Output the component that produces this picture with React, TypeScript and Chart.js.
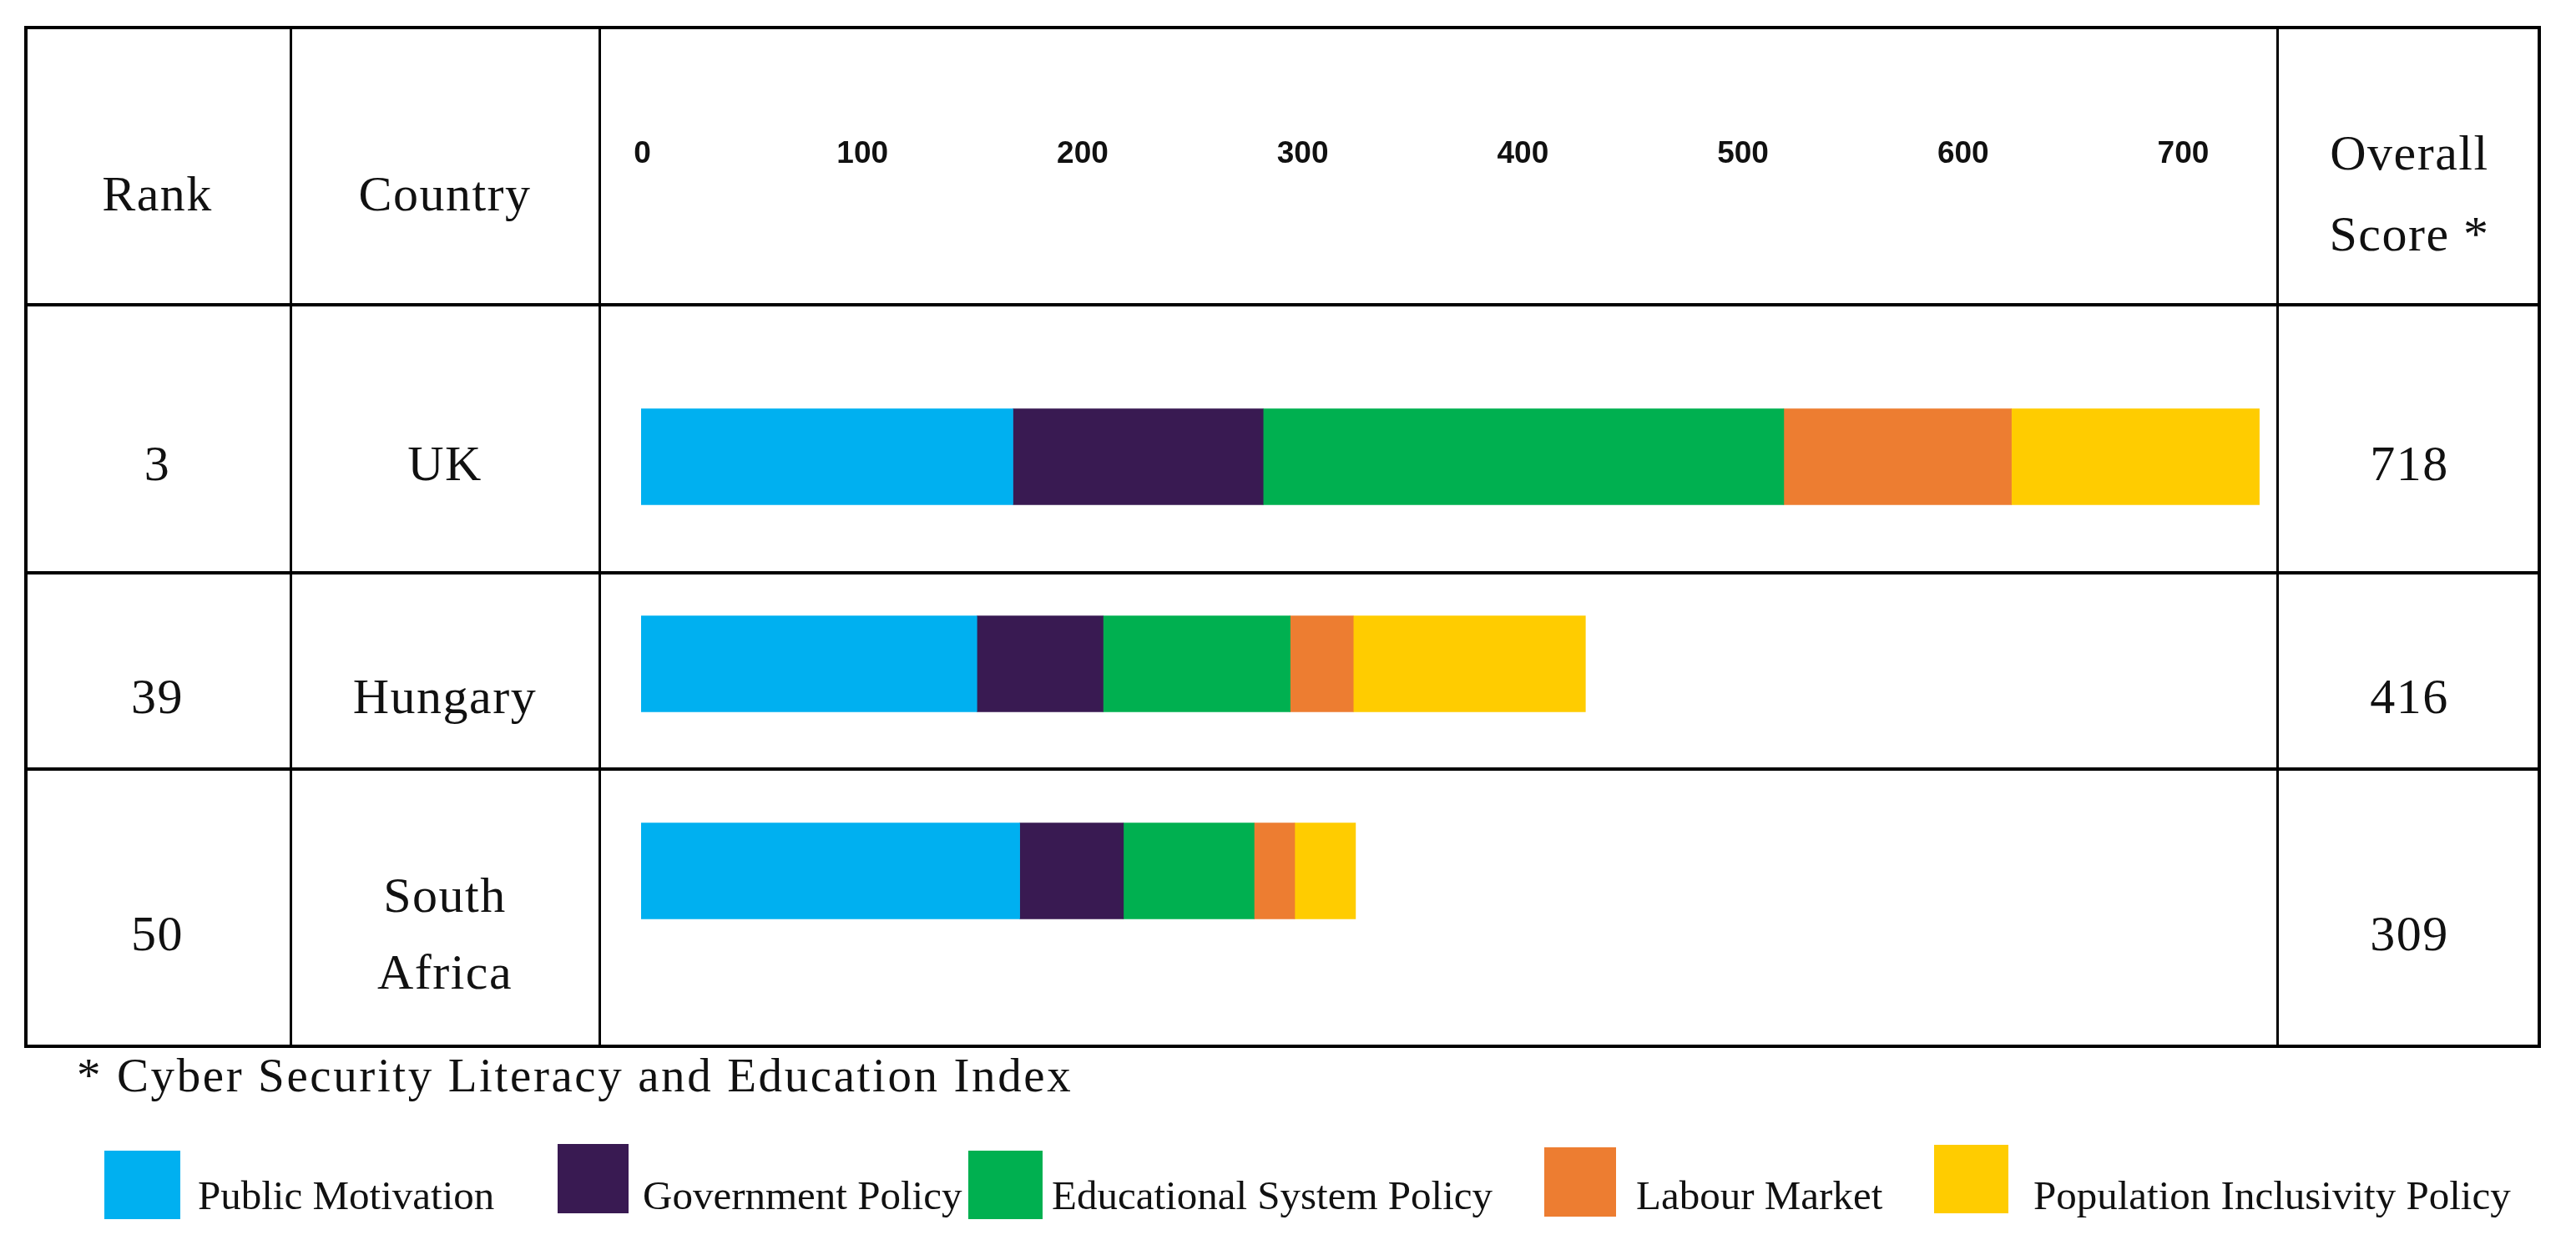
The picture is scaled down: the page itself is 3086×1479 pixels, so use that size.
import React, { useEffect, useRef } from "react";
import { Chart, registerables } from "chart.js";

Chart.register(...registerables);

// ---------- data ----------
const countries = ["UK", "Hungary", "South Africa"];
const ranks = ["3", "39", "50"];
const overallScores = ["718", "416", "309"];
const seriesNames = [
  "Public Motivation",
  "Government Policy",
  "Educational System Policy",
  "Labour Market",
  "Population Inclusivity Policy",
];
const seriesColors = ["#00B0F0", "#391A52", "#00B050", "#ED7D31", "#FFCC00"];
const publicMotivation = [165, 149, 168];
const governmentPolicy = [111, 56, 46];
const educationalSystemPolicy = [231, 83, 58];
const labourMarket = [101, 28, 18];
const populationInclusivityPolicy = [110, 103, 27];
const tickValues = [0, 100, 200, 300, 400, 500, 600, 700];
const footnote = "* Cyber Security Literacy and Education Index";

const seriesValues = [
  publicMotivation,
  governmentPolicy,
  educationalSystemPolicy,
  labourMarket,
  populationInclusivityPolicy,
];

// ---------- layout (page pixels) ----------
const SERIF = "'Liberation Serif', 'Times New Roman', serif";
const hLines = [33, 365, 686, 921, 1253]; // centers
const tableLeft = 29;
const tableRight = 3044;
const colLines = [348.5, 718.5, 2728.5];
const colBounds = [tableLeft, 348, 718, 2729, tableRight];
const rowTextY = [555, 834, 1118];
const legendLayout = [
  { sx: 125, sy: 1378, sw: 91, sh: 82, tx: 237 },
  { sx: 668, sy: 1370, sw: 85, sh: 83, tx: 770 },
  { sx: 1160, sy: 1378, sw: 89, sh: 82, tx: 1260 },
  { sx: 1850, sy: 1374, sw: 86, sh: 83, tx: 1960 },
  { sx: 2317, sy: 1371, sw: 89, sh: 82, tx: 2436 },
];

const chartBox = { left: 720, top: 35, width: 2007, height: 1216 };
const TICK_PAD = 216;
const TICK_AXIS_HEIGHT = 266;

function CellText(props: {
  col: number;
  cy: number;
  text: string;
  size?: number;
}) {
  const size = props.size ?? 60;
  const l = colBounds[props.col];
  const r = colBounds[props.col + 1];
  return (
    <div
      style={{
        position: "absolute",
        left: l,
        width: r - l,
        top: props.cy - size / 2,
        height: size,
        lineHeight: size + "px",
        fontSize: size,
        fontFamily: SERIF,
        letterSpacing: "1.5px",
        textAlign: "center",
        color: "#111",
        whiteSpace: "nowrap",
      }}
    >
      {props.text}
    </div>
  );
}

export default function App() {
  const canvasRef = useRef<HTMLCanvasElement | null>(null);

  useEffect(() => {
    const canvas = canvasRef.current;
    if (!canvas) return;
    const chart = new Chart(canvas, {
      type: "bar",
      data: {
        labels: countries,
        datasets: seriesValues.map((d, i) => ({
          label: seriesNames[i],
          data: d,
          backgroundColor: seriesColors[i],
          borderWidth: 0,
          barThickness: 115,
        })),
      },
      options: {
        indexAxis: "y",
        animation: false,
        responsive: false,
        devicePixelRatio: 1,
        layout: { padding: { left: 48, right: 15, top: 122, bottom: 84 } },
        plugins: {
          legend: { display: false },
          tooltip: { enabled: false },
        },
        scales: {
          x: { stacked: true, min: 0, max: 720, display: false },
          xt: {
            type: "linear",
            position: "top",
            min: -0.57,
            max: 736.6,
            grid: { display: false, drawTicks: false, tickLength: 0 },
            border: { display: false },
            afterBuildTicks: (axis: any) => {
              axis.ticks = tickValues.map((v) => ({ value: v }));
            },
            afterFit: (axis: any) => {
              axis.height = TICK_AXIS_HEIGHT;
              axis.paddingLeft = 0;
              axis.paddingRight = 0;
              axis.paddingTop = 0;
              axis.paddingBottom = 0;
            },
            ticks: {
              padding: TICK_PAD,
              includeBounds: false,
              autoSkip: false,
              maxRotation: 0,
              minRotation: 0,
              color: "#111",
              font: {
                family: "'Liberation Sans Narrow', 'Liberation Sans', Arial, sans-serif",
                weight: "bold",
                size: 37,
              },
            },
          },
          y: { stacked: true, display: false },
        },
      } as any,
    });
    return () => chart.destroy();
  }, []);

  return (
    <div
      style={{
        position: "absolute",
        left: 0,
        top: 0,
        width: 3086,
        height: 1479,
        overflow: "hidden",
        background: "#fff",
      }}
    >
      {/* horizontal table lines */}
      {hLines.map((y, i) => (
        <div
          key={"h" + i}
          style={{
            position: "absolute",
            left: tableLeft,
            width: tableRight - tableLeft,
            top: y - 2,
            height: 4,
            background: "#000",
          }}
        />
      ))}
      {/* outer vertical lines */}
      {[tableLeft, tableRight - 4].map((x, i) => (
        <div
          key={"ov" + i}
          style={{
            position: "absolute",
            left: x,
            width: 4,
            top: hLines[0] - 2,
            height: hLines[4] - hLines[0] + 4,
            background: "#000",
          }}
        />
      ))}
      {/* inner vertical lines */}
      {colLines.map((x, i) => (
        <div
          key={"iv" + i}
          style={{
            position: "absolute",
            left: x - 1.5,
            width: 3,
            top: hLines[0] - 2,
            height: hLines[4] - hLines[0] + 4,
            background: "#000",
          }}
        />
      ))}

      {/* header */}
      <CellText col={0} cy={232} text="Rank" />
      <CellText col={1} cy={232} text="Country" />
      <CellText col={3} cy={183} text="Overall" />
      <CellText col={3} cy={280} text="Score *" />

      {/* rows */}
      {countries.map((c, i) => (
        <React.Fragment key={"r" + i}>
          <CellText col={0} cy={rowTextY[i]} text={ranks[i]} />
          {c.includes(" ") ? (
            c.split(" ").map((w, j, arr) => (
              <CellText
                key={"w" + j}
                col={1}
                cy={rowTextY[i] + (j - (arr.length - 1) / 2) * 92}
                text={w}
              />
            ))
          ) : (
            <CellText col={1} cy={rowTextY[i]} text={c} />
          )}
          <CellText col={3} cy={rowTextY[i]} text={overallScores[i]} />
        </React.Fragment>
      ))}

      {/* chart */}
      <canvas
        ref={canvasRef}
        width={chartBox.width}
        height={chartBox.height}
        style={{
          position: "absolute",
          left: chartBox.left,
          top: chartBox.top,
          width: chartBox.width,
          height: chartBox.height,
        }}
      />

      {/* footnote */}
      <div
        style={{
          position: "absolute",
          left: 92,
          top: 1259,
          fontFamily: SERIF,
          fontSize: 57,
          lineHeight: "57px",
          letterSpacing: "2.6px",
          color: "#111",
          whiteSpace: "nowrap",
        }}
      >
        {footnote}
      </div>

      {/* legend */}
      {seriesNames.map((name, i) => {
        const L = legendLayout[i];
        return (
          <React.Fragment key={"lg" + i}>
            <div
              style={{
                position: "absolute",
                left: L.sx,
                top: L.sy,
                width: L.sw,
                height: L.sh,
                background: seriesColors[i],
              }}
            />
            <div
              style={{
                position: "absolute",
                left: L.tx,
                top: 1407,
                fontFamily: SERIF,
                fontSize: 49,
                lineHeight: "49px",
                color: "#111",
                whiteSpace: "nowrap",
              }}
            >
              {name}
            </div>
          </React.Fragment>
        );
      })}
    </div>
  );
}
